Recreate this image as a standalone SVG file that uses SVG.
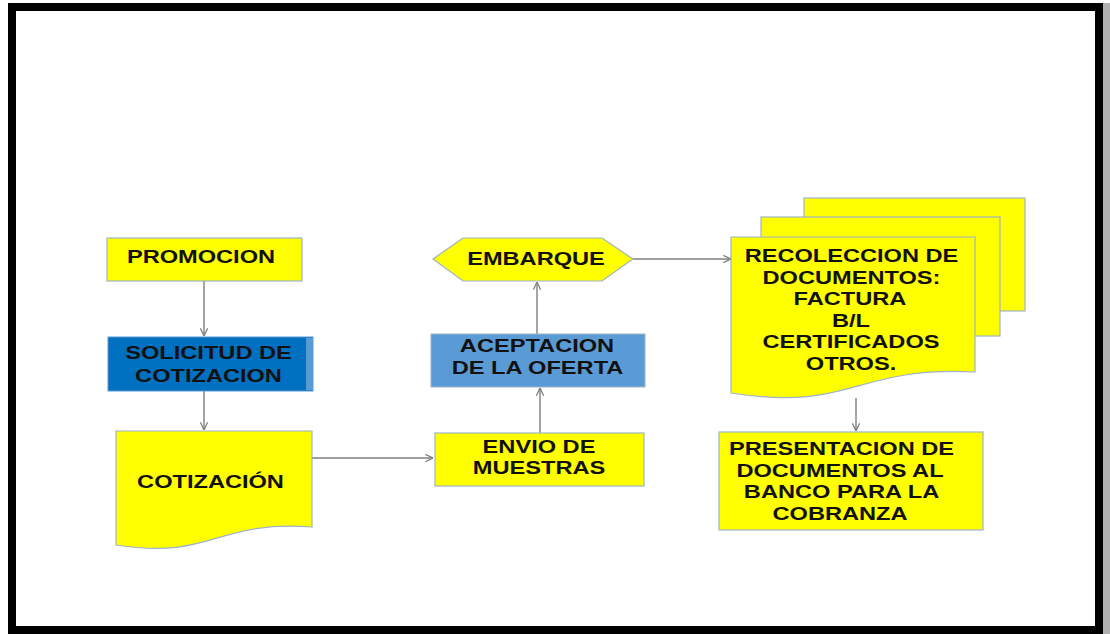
<svg xmlns="http://www.w3.org/2000/svg" width="1110" height="634" viewBox="0 0 1110 634">
<style>
.y{fill:#FFFF00;stroke:#9DB3C8;stroke-width:1.2}
.t{font-family:"Liberation Sans",Arial,sans-serif;font-weight:bold;font-size:17.5px;fill:#111;text-anchor:middle}
.c{stroke:#7F7F7F;stroke-width:1.4;fill:none;marker-end:url(#a)}
</style>
<defs>
<marker id="a" viewBox="0 0 10 10" refX="9.5" refY="5" markerWidth="9" markerHeight="9" markerUnits="userSpaceOnUse" orient="auto">
<path d="M1,1 L9.5,5 L1,9" fill="none" stroke="#7F7F7F" stroke-width="1.4"/>
</marker>
</defs>
<rect x="0" y="0" width="1110" height="634" fill="#fff"/>
<rect x="1103" y="3" width="7" height="631" fill="#b0b0b0"/>
<rect x="12" y="7" width="1087" height="623" fill="#fff" stroke="#000" stroke-width="8"/>

<g id="connectors">
<line class="c" x1="204" y1="281" x2="204" y2="336"/>
<line class="c" x1="204" y1="391" x2="204" y2="430"/>
<line class="c" x1="312" y1="458" x2="433" y2="458"/>
<line class="c" x1="540" y1="433" x2="540" y2="388"/>
<line class="c" x1="537" y1="334" x2="537" y2="282"/>
<line class="c" x1="633" y1="259" x2="731" y2="259"/>
<line class="c" x1="856" y1="398" x2="856" y2="431"/>
</g>

<g id="promocion">
<rect class="y" x="107" y="238" width="195" height="43"/>
<text class="t" transform="translate(201,263) scale(1.35,1)">PROMOCION</text>
</g>

<g id="solicitud">
<rect x="108" y="337" width="205" height="54" fill="#0070C0" stroke="#5B9BD5" stroke-width="1"/>
<rect x="306" y="338" width="7" height="52" fill="#5B9BD5"/>
<text class="t" transform="translate(208.5,359) scale(1.35,1)">SOLICITUD DE</text>
<text class="t" transform="translate(208.5,382) scale(1.35,1)">COTIZACION</text>
</g>

<g id="cotizacion">
<path class="y" d="M116,431 L312,431 L312,527 C214,520 214,560 116,545 Z"/>
<text class="t" transform="translate(210.5,488) scale(1.35,1)">COTIZACIÓN</text>
</g>

<g id="envio">
<rect class="y" x="435" y="433" width="209" height="53"/>
<text class="t" transform="translate(539,453) scale(1.35,1)">ENVIO DE</text>
<text class="t" transform="translate(539,474) scale(1.35,1)">MUESTRAS</text>
</g>

<g id="aceptacion">
<rect x="431" y="334" width="214" height="53" fill="#5B9BD5" stroke="#9DB3C8" stroke-width="1"/>
<text class="t" transform="translate(537,352) scale(1.35,1)">ACEPTACION</text>
<text class="t" transform="translate(537.5,374) scale(1.35,1)">DE LA OFERTA</text>
</g>

<g id="embarque">
<polygon class="y" points="433,259 463,238 602,238 633,259 602,281 463,281"/>
<text class="t" transform="translate(536,265) scale(1.35,1)">EMBARQUE</text>
</g>

<g id="recoleccion">
<rect class="y" x="804" y="198" width="221" height="113"/>
<rect class="y" x="761" y="217" width="239" height="119"/>
<path class="y" d="M731,237 L975,237 L975,372 C853,366 853,412 731,393 Z"/>
<text class="t" transform="translate(851.5,262) scale(1.35,1)">RECOLECCION DE</text>
<text class="t" transform="translate(851.5,284) scale(1.35,1)">DOCUMENTOS:</text>
<text class="t" transform="translate(850,305) scale(1.35,1)">FACTURA</text>
<text class="t" transform="translate(851,327) scale(1.35,1)">B/L</text>
<text class="t" transform="translate(851,348) scale(1.35,1)">CERTIFICADOS</text>
<text class="t" transform="translate(851,370) scale(1.35,1)">OTROS.</text>
</g>

<g id="presentacion">
<rect class="y" x="719" y="432" width="264" height="98"/>
<text class="t" transform="translate(841.5,455) scale(1.35,1)">PRESENTACION DE</text>
<text class="t" transform="translate(840,477) scale(1.35,1)">DOCUMENTOS AL</text>
<text class="t" transform="translate(841.5,498) scale(1.35,1)">BANCO PARA LA</text>
<text class="t" transform="translate(840,520) scale(1.35,1)">COBRANZA</text>
</g>
</svg>
